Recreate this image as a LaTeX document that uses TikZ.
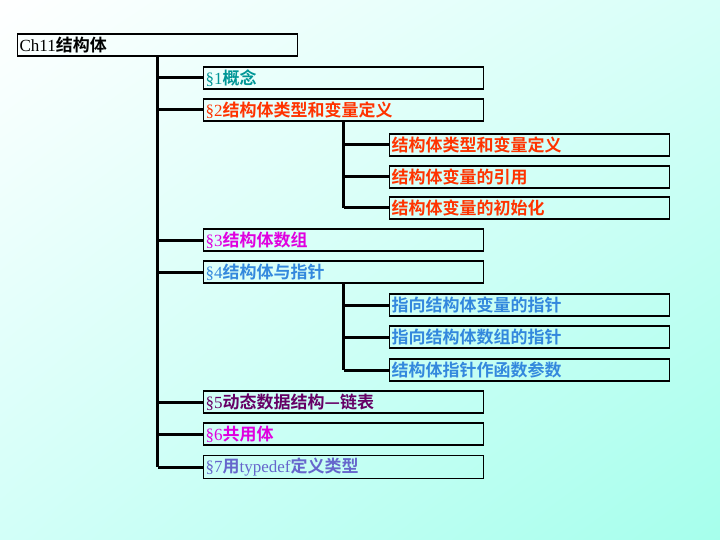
\documentclass[tikz,border=0pt]{standalone}
\usepackage{fontspec}
\usetikzlibrary{shadings}
\setmainfont{Liberation Serif}
\newfontfamily\cjk{Noto Sans CJK SC}[BoldFont={Noto Sans CJK SC Bold}]
\definecolor{tealsec}{RGB}{0,150,150}
\definecolor{redsec}{RGB}{255,51,0}
\definecolor{pinksec}{RGB}{224,0,224}
\definecolor{bluesec}{RGB}{51,136,221}
\definecolor{plumsec}{RGB}{102,0,102}
\definecolor{slatesec}{RGB}{102,102,204}
\definecolor{bgtr}{RGB}{215,255,248}
\definecolor{bgbl}{RGB}{210,255,248}
\definecolor{bgbr}{RGB}{166,255,236}
\newcommand{\zh}[1]{{\cjk\bfseries #1}}
\tikzset{
  box/.style={draw=black, line width=1.2pt, anchor=west, inner sep=2pt,
    text width=276pt, minimum height=22pt, align=left,
    font=\fontsize{17}{20}\selectfont},
  link/.style={line width=3pt}
}
\begin{document}
\begin{tikzpicture}[x=1pt,y=-1pt]

\useasboundingbox (0,0) rectangle (720,540);
\shade[upper left=white, upper right=bgtr, lower left=bgbl, lower right=bgbr]
  (0,0) rectangle (720,540);

\node[box] (ch) at (17,45) {Ch11\zh{结构体}};

\node[box, text=tealsec] (s1) at (203,78) {§1\zh{概念}};
\node[box, text=redsec] (s2) at (203,110) {§2\zh{结构体类型和变量定义}};
\node[box, text=redsec] (s21) at (389,145) {\zh{结构体类型和变量定义}};
\node[box, text=redsec] (s22) at (389,177) {\zh{结构体变量的引用}};
\node[box, text=redsec] (s23) at (389,208) {\zh{结构体变量的初始化}};
\node[box, text=pinksec] (s3) at (203,240) {§3\zh{结构体数组}};
\node[box, text=bluesec] (s4) at (203,272) {§4\zh{结构体与指针}};
\node[box, text=bluesec] (s41) at (389,305) {\zh{指向结构体变量的指针}};
\node[box, text=bluesec] (s42) at (389,337) {\zh{指向结构体数组的指针}};
\node[box, text=bluesec] (s43) at (389,370) {\zh{结构体指针作函数参数}};
\node[box, text=plumsec] (s5) at (203,402) {§5\zh{动态数据结构—链表}};
\node[box, text=pinksec] (s6) at (203,434) {§6\zh{共用体}};
\node[box, text=slatesec] (s7) at (203,467) {§7\zh{用}typedef\zh{定义类型}};

% trunks
\draw[link] (ch.south) -- (ch.south |- s7.west);
\draw[link] (s2.south) -- (s2.south |- s23.west);
\draw[link] (s4.south) -- (s4.south |- s43.west);

% branches
\foreach \n in {s1,s2,s3,s4,s5,s6,s7}
  \draw[link] (ch.south |- \n.west) -- (\n.west);
\foreach \n in {s21,s22,s23}
  \draw[link] (s2.south |- \n.west) -- (\n.west);
\foreach \n in {s41,s42,s43}
  \draw[link] (s4.south |- \n.west) -- (\n.west);
\end{tikzpicture}
\end{document}
